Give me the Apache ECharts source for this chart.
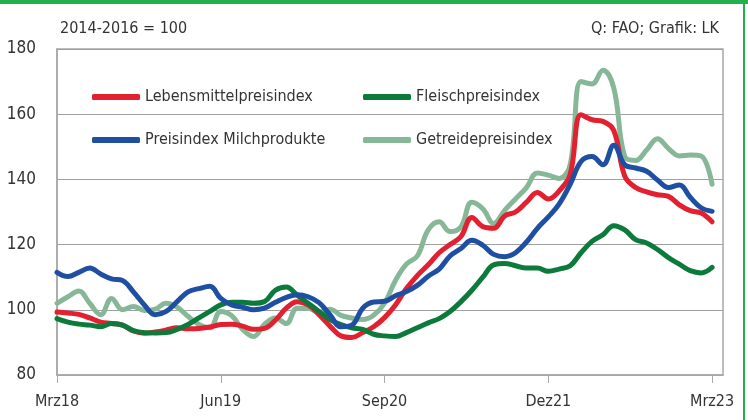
<!DOCTYPE html>
<html>
<head>
<meta charset="utf-8">
<script src="https://cdn.jsdelivr.net/npm/echarts@6/dist/echarts.min.js"></script>
<style>
  html, body { margin: 0; padding: 0; background: #fff; }
  #chart { width: 748px; height: 420px; }
</style>
</head>
<body>
<div id="chart"></div>
<script>
// Monatswerte Mrz18 .. Mrz23 (61 Monate), 2014-2016 = 100
var lebensmittel = [99.3, 99.0, 98.6, 97.5, 96.2, 95.8, 95.3, 93.5, 92.8, 93.2,
  93.8, 94.5, 94.2, 94.3, 94.7, 95.5, 95.6, 95.0, 94.0, 94.3,
  96.8, 100.5, 102.5, 101.5, 98.5, 95.0, 92.0, 91.5, 93.0, 94.8,
  97.6, 101.5, 106.5, 110.5, 113.8, 117.5, 120.0, 122.5, 128.3, 125.5,
  125.0, 128.8, 130.0, 133.0, 136.0, 134.0, 136.5, 141.5, 159.8, 158.3,
  157.8, 155.0, 141.0, 137.5, 136.2, 135.3, 134.8, 132.2, 130.4, 129.7,
  127.0];
var fleisch = [97.3, 96.2, 95.6, 95.3, 94.8, 95.8, 95.3, 93.6, 93.0, 92.9,
  93.0, 94.0, 95.5, 97.5, 99.5, 101.5, 102.3, 102.3, 102.0, 102.5,
  106.0, 107.0, 104.5, 102.0, 99.5, 97.0, 95.5, 94.5, 94.0, 92.5,
  92.0, 91.8, 93.0, 94.5, 96.0, 97.3, 99.5, 102.5, 106.0, 110.0,
  113.8, 114.2, 113.5, 112.8, 112.8, 111.8, 112.5, 113.5, 117.5, 121.0,
  123.0, 125.8, 124.5, 121.5, 120.5, 118.5, 116.0, 114.0, 112.0, 111.3,
  113.0];
var milch = [111.5, 110.2, 111.5, 112.8, 111.0, 109.5, 109.0, 105.5, 101.5, 98.5,
  99.5, 102.5, 105.5, 106.5, 107.2, 103.5, 101.5, 100.8, 100.0, 100.5,
  102.3, 103.8, 104.6, 104.0, 102.2, 98.5, 94.8, 95.3, 100.5, 102.4,
  102.6, 104.3, 105.6, 107.5, 110.3, 112.5, 116.5, 118.8, 121.3, 119.8,
  117.0, 116.3, 117.5, 120.8, 125.0, 128.5, 132.5, 138.5, 145.5, 147.0,
  144.5, 150.5, 144.5, 143.5, 142.5, 139.8, 137.5, 138.3, 134.5, 131.3,
  130.2];
var getreide = [102.0, 104.0, 105.8, 102.0, 98.5, 103.5, 100.0, 101.0, 99.8, 100.2,
  102.0, 100.8, 98.0, 95.5, 94.5, 99.5, 98.2, 94.0, 91.8, 95.5,
  97.5, 95.8, 100.5, 100.5, 99.2, 100.2, 98.3, 97.5, 97.0, 98.3,
  102.0, 109.0, 114.0, 116.5, 124.5, 127.0, 124.0, 125.5, 133.0, 131.0,
  126.5, 130.5, 134.0, 137.5, 142.0, 141.3, 140.3, 144.5, 170.0, 169.3,
  173.5, 168.0, 147.0, 145.8, 149.0, 152.5, 149.5, 147.2, 147.5, 147.2,
  138.5];

var xTicks = [0, 15, 30, 45, 60];
var xTickLabels = ['Mrz18', 'Jun19', 'Sep20', 'Dez21', 'Mrz23'];

var font = "'DejaVu Sans Condensed', 'Liberation Sans Narrow', 'Liberation Sans', sans-serif";

function toPoints(arr) {
  return arr.map(function (v, i) { return [i, v]; });
}

function lineSeries(name, data, color, z) {
  return {
    name: name,
    type: 'line',
    data: toPoints(data),
    smooth: 0.4,
    showSymbol: false,
    symbol: 'none',
    z: z,
    lineStyle: { color: color, width: 5, cap: 'round', join: 'round' },
    itemStyle: { color: color }
  };
}

var chart = echarts.init(document.getElementById('chart'), null, { renderer: 'canvas' });

var option = {
  animation: false,
  backgroundColor: '#fff',
  textStyle: { fontFamily: font },
  grid: {
    left: 57, right: 25, top: 49, bottom: 45,
    show: true, borderColor: '#a8a8a8', borderWidth: 1.5
  },
  graphic: [
    { type: 'rect', left: 0, top: 0, shape: { width: 748, height: 4 }, style: { fill: '#22b14c' } },
    { type: 'rect', left: 743, top: 0, shape: { width: 2, height: 420 }, style: { fill: '#22b14c' } },
    { type: 'text', left: 60, top: 21, style: { text: '2014-2016 = 100', font: '16px ' + font, fill: '#333' } },
    { type: 'text', right: 29, top: 21, style: { text: 'Q: FAO; Grafik: LK', font: '16px ' + font, fill: '#333', textAlign: 'right' } }
  ],
  legend: [
    {
      data: ['Lebensmittelpreisindex', 'Preisindex Milchprodukte'],
      orient: 'vertical', left: 87, top: 81, itemGap: 21,
      itemWidth: 48, itemHeight: 6, icon: 'roundRect',
      textStyle: { fontFamily: font, fontSize: 16, color: '#333', lineHeight: 22 }
    },
    {
      data: ['Fleischpreisindex', 'Getreidepreisindex'],
      orient: 'vertical', left: 358, top: 81, itemGap: 21,
      itemWidth: 48, itemHeight: 6, icon: 'roundRect',
      textStyle: { fontFamily: font, fontSize: 16, color: '#333', lineHeight: 22 }
    }
  ],
  xAxis: {
    type: 'value',
    min: 0, max: 61,
    axisLine: { show: true, lineStyle: { color: '#a8a8a8', width: 1.5 } },
    axisTick: { show: true, length: 8, customValues: xTicks, lineStyle: { color: '#a8a8a8' } },
    splitLine: { show: false },
    axisLabel: {
      customValues: xTicks,
      margin: 19,
      fontSize: 16,
      color: '#333',
      fontFamily: font,
      formatter: function (v) {
        var k = xTicks.indexOf(v);
        return k >= 0 ? xTickLabels[k] : '';
      }
    }
  },
  yAxis: {
    type: 'value',
    min: 80, max: 180, interval: 20,
    axisLine: { show: true, lineStyle: { color: '#a8a8a8', width: 1.5 } },
    axisTick: { show: false },
    splitLine: { lineStyle: { color: '#a0a0a0', width: 1.2 } },
    axisLabel: { fontSize: 17, color: '#333', margin: 21, fontFamily: font }
  },
  series: [
    lineSeries('Getreidepreisindex', getreide, '#86b898', 1),
    lineSeries('Lebensmittelpreisindex', lebensmittel, '#e2202f', 2),
    lineSeries('Fleischpreisindex', fleisch, '#0b7a3b', 3),
    lineSeries('Preisindex Milchprodukte', milch, '#1f4fa3', 4)
  ]
};

chart.setOption(option);
</script>
</body>
</html>
